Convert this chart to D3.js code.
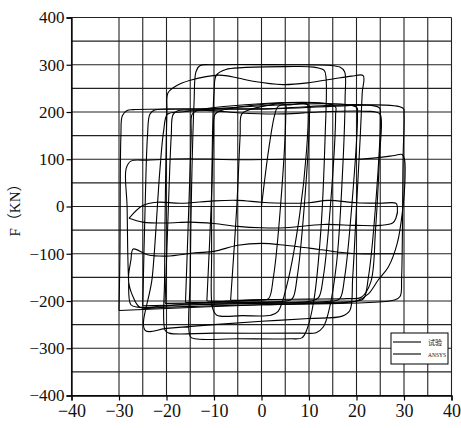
<!DOCTYPE html>
<html><head><meta charset="utf-8">
<script src="https://cdn.jsdelivr.net/npm/d3@7"></script>
<style>body{margin:0;background:#fff}svg{display:block}</style>
</head><body>
<script>
// ---------- data ----------
const xTicks = [-40,-30,-20,-10,0,10,20,30,40];
const yTicks = [-400,-300,-200,-100,0,100,200,300,400];
const xGrid = [-40,-30,-25,-20,-15,-10,-5,0,5,10,15,20,25,30,35,40];
const yGrid = [-400,-350,-300,-250,-200,-150,-100,-50,0,50,100,150,200,250,300,350,400];
const legendLabels = ["试验","ANSYS"];

// experimental (试验) branches
const testMain = [
 [0,0],[1.5,120],[2.8,195],[3.5,212],[6,215],[9.6,217],[9.8,205],
 [9.5,120],[8,-20],[5.5,-160],[3.5,-222],[2,-230],[-4,-231],[-9.4,-230],[-10.3,-215],
 [-10.5,-100],[-10.4,100],[-10,240],[-9.5,278],[-7.5,290],[-4,294],[5,296],[11,295],[13.2,288],[13.6,270],
 [13.4,150],[12.5,-50],[11,-200],[9.5,-262],[8.5,-278],[6,-280],[-5,-280],[-14,-280],[-15,-275],
 [-15,-150],[-14.7,50],[-14.2,220],[-13.8,285],[-13,298],[-10,300],[5,300],[14,299],[16.5,295],[17.5,285],
 [17.6,230],[17,60],[15.8,-120],[14.2,-220],[13,-255],[11.5,-267],[8,-268],[-10,-268],[-19.5,-268],[-20.3,-262],
 [-20.4,-150],[-20.2,50],[-19.9,200],[-19.7,240],[-18,255],[-15,267],[-9,278],[-5,272],[-1.8,265],[4.5,258],[10,262],[15,270],[19,276],[21.4,277],
 [21.2,240],[20.8,150],[20,0],[19.2,-150],[18.6,-220],[17,-232],[10,-237],[0,-243],[-10,-250],[-20,-258],[-24.5,-262],
 [-23,-150],[-21.4,76],[-20.6,160],[-19.8,195],[-17,200],[-10.8,203],[-4.5,198],[4.5,196],[12,200],[20.3,202],[24,200],[25,195],
 [24.8,100],[24,-50],[23,-160],[21,-192],[18,-195],[10,-196],[0,-197],[-10,-202],[-20,-210],[-26,-213],[-27.5,-208],
 [-28,-150],[-28.3,0],[-28.5,80],[-27.5,96],[-24,98],[-15,101],[-5,99],[5,100],[15,100],[20,100],[25,104],[28,108],[29.6,110],[30.1,100],
 [30.2,55],[29.7,-8],[28.6,-77],[26.7,-128],[24.6,-155],[22.5,-185],[20,-200],[10,-205],[0,-208],[-10,-210],[-20,-213],[-25.6,-213],
 [-27,-192],[-28,-156],[-27.5,-114],[-27,-90],[-24,-102],[-20,-105],[-14,-98],[-10,-95],[-5,-82],[0,-78],[5,-82],[10,-88],[15,-95],[20,-100],[25,-100],[29.5,-100]
];
const testPinch = [
 [-27.9,-25],[-25,2],[-22,9],[-17,7],[-10,12],[-5,13],[0,9],[5,7],[10,8],[14,13],[20,8],[25,7],[28.3,7],[28.6,0],[28.3,-25],[27.6,-35],[25,-40],[20,-40],[13,-38],[5,-45],[0,-45],[-5,-42],[-10,-36],[-15,-33],[-20,-35],[-25,-33],[-27.9,-25]
];
const testLoops = [testMain, testPinch];

// ANSYS loops
const ansys30 = [[-30,-220],[-29.8,-100],[-29.6,150],[-29.3,192],[-28.3,203],[-27,205],[0,206],[29.8,208],[30,195],[29.8,100],[29.5,-150],[29.2,-190],[28,-198],[0,-208],[-30,-220]];
const ansys25 = [[-25,-210],[-24.5,0],[-24,150],[-23.5,195],[-22.5,204],[-20,206],[0,207],[24.8,209],[25,195],[24,0],[22.5,-150],[21.5,-195],[20,-200],[0,-205],[-25,-210]];
const ansys20 = [[-20.3,-205],[-19.6,0],[-19,150],[-18.6,195],[-17.5,203],[-15,204],[20,210],[20.2,195],[19,0],[17.5,-150],[16.5,-195],[15,-200],[0,-203],[-20.3,-205]];
const ansys15 = [[-16,-203],[-15.3,0],[-14.8,150],[-14.6,195],[-13.5,203],[15.5,212],[15.6,195],[14.5,0],[13,-150],[12,-193],[10.5,-200],[-16,-203]];
const ansys10 = [[-11.5,-200],[-10.6,0],[-10.1,150],[-9.8,195],[-8.5,203],[10,214],[10.1,195],[9,0],[7.5,-150],[6.5,-195],[5,-200],[-11.5,-200]];
const ansys5 = [[-6.5,-198],[-5.2,0],[-4.5,150],[-4.2,195],[-3,203],[5,215],[5.1,195],[4,0],[2.5,-150],[1.5,-195],[0,-198],[-6.5,-198]];
const ansysLoops = [ansys30, ansys25, ansys20, ansys15, ansys10, ansys5];

// ---------- drawing ----------
const W = 461, H = 428;
const svg = d3.select("body").append("svg").attr("width", W).attr("height", H);
const x = d3.scaleLinear().domain([-40,40]).range([71.5,451.5]);
const y = d3.scaleLinear().domain([-400,400]).range([395.5,17.5]);
const SERIF = "Liberation Serif, DejaVu Serif, serif";

const g = svg.append("g");
g.selectAll(".vg").data(xGrid).join("line")
 .attr("x1", d=>x(d)).attr("x2", d=>x(d)).attr("y1", y(-400)).attr("y2", y(400))
 .attr("stroke","#222").attr("stroke-width",1.1);
g.selectAll(".hg").data(yGrid).join("line")
 .attr("x1", x(-40)).attr("x2", x(40)).attr("y1", d=>y(d)).attr("y2", d=>y(d))
 .attr("stroke","#222").attr("stroke-width",1.1);

const xAxis = d3.axisBottom(x).tickValues(xTicks).tickSize(5).tickPadding(4);
const yAxis = d3.axisLeft(y).tickValues(yTicks).tickSize(5).tickPadding(2);
const gx = svg.append("g").attr("transform",`translate(0,${y(-400)})`).call(xAxis);
const gy = svg.append("g").attr("transform",`translate(${x(-40)},0)`).call(yAxis);
[gx,gy].forEach(a=>{
  a.attr("font-family", SERIF);
  a.select(".domain").attr("stroke","#000").attr("stroke-width",1.3);
  a.selectAll(".tick line").attr("stroke","#000").attr("stroke-width",1.2);
  a.selectAll("text").attr("fill","#111").attr("font-family", SERIF);
});
gx.attr("font-size",18); gx.selectAll("text").attr("font-size",18);
gy.attr("font-size",17); gy.selectAll("text").attr("font-size",17);

svg.append("text").attr("transform",`translate(20,${y(0)}) rotate(-90)`)
 .attr("text-anchor","middle").attr("font-family","Liberation Serif, Noto Sans CJK SC, serif")
 .attr("font-size",15).attr("fill","#111").text("F（KN）");

const line = d3.line().x(d=>x(d[0])).y(d=>y(d[1])).curve(d3.curveCatmullRom.alpha(0.5));
svg.append("g").selectAll("path").data(ansysLoops).join("path")
 .attr("d", line).attr("fill","none").attr("stroke","#000").attr("stroke-width",1.1);
svg.append("g").selectAll("path").data(testLoops).join("path")
 .attr("d", line).attr("fill","none").attr("stroke","#000").attr("stroke-width",1.1);

const lg = svg.append("g");
lg.append("rect").attr("x",391).attr("y",333).attr("width",57).attr("height",31)
 .attr("fill","#fff").attr("stroke","#000").attr("stroke-width",1);
legendLabels.forEach((t,i)=>{
  const ly = 342 + i*12;
  lg.append("line").attr("x1",393).attr("x2",421).attr("y1",ly).attr("y2",ly).attr("stroke","#000").attr("stroke-width",1.1);
  const tx = lg.append("text").attr("x",428).attr("y",ly+2.5).text(t)
   .attr("font-family","Liberation Serif, Noto Sans CJK SC, serif").attr("font-size",7).attr("fill","#111");
  if (i===1) tx.attr("textLength",18).attr("lengthAdjust","spacingAndGlyphs");
});
</script>
</body></html>
